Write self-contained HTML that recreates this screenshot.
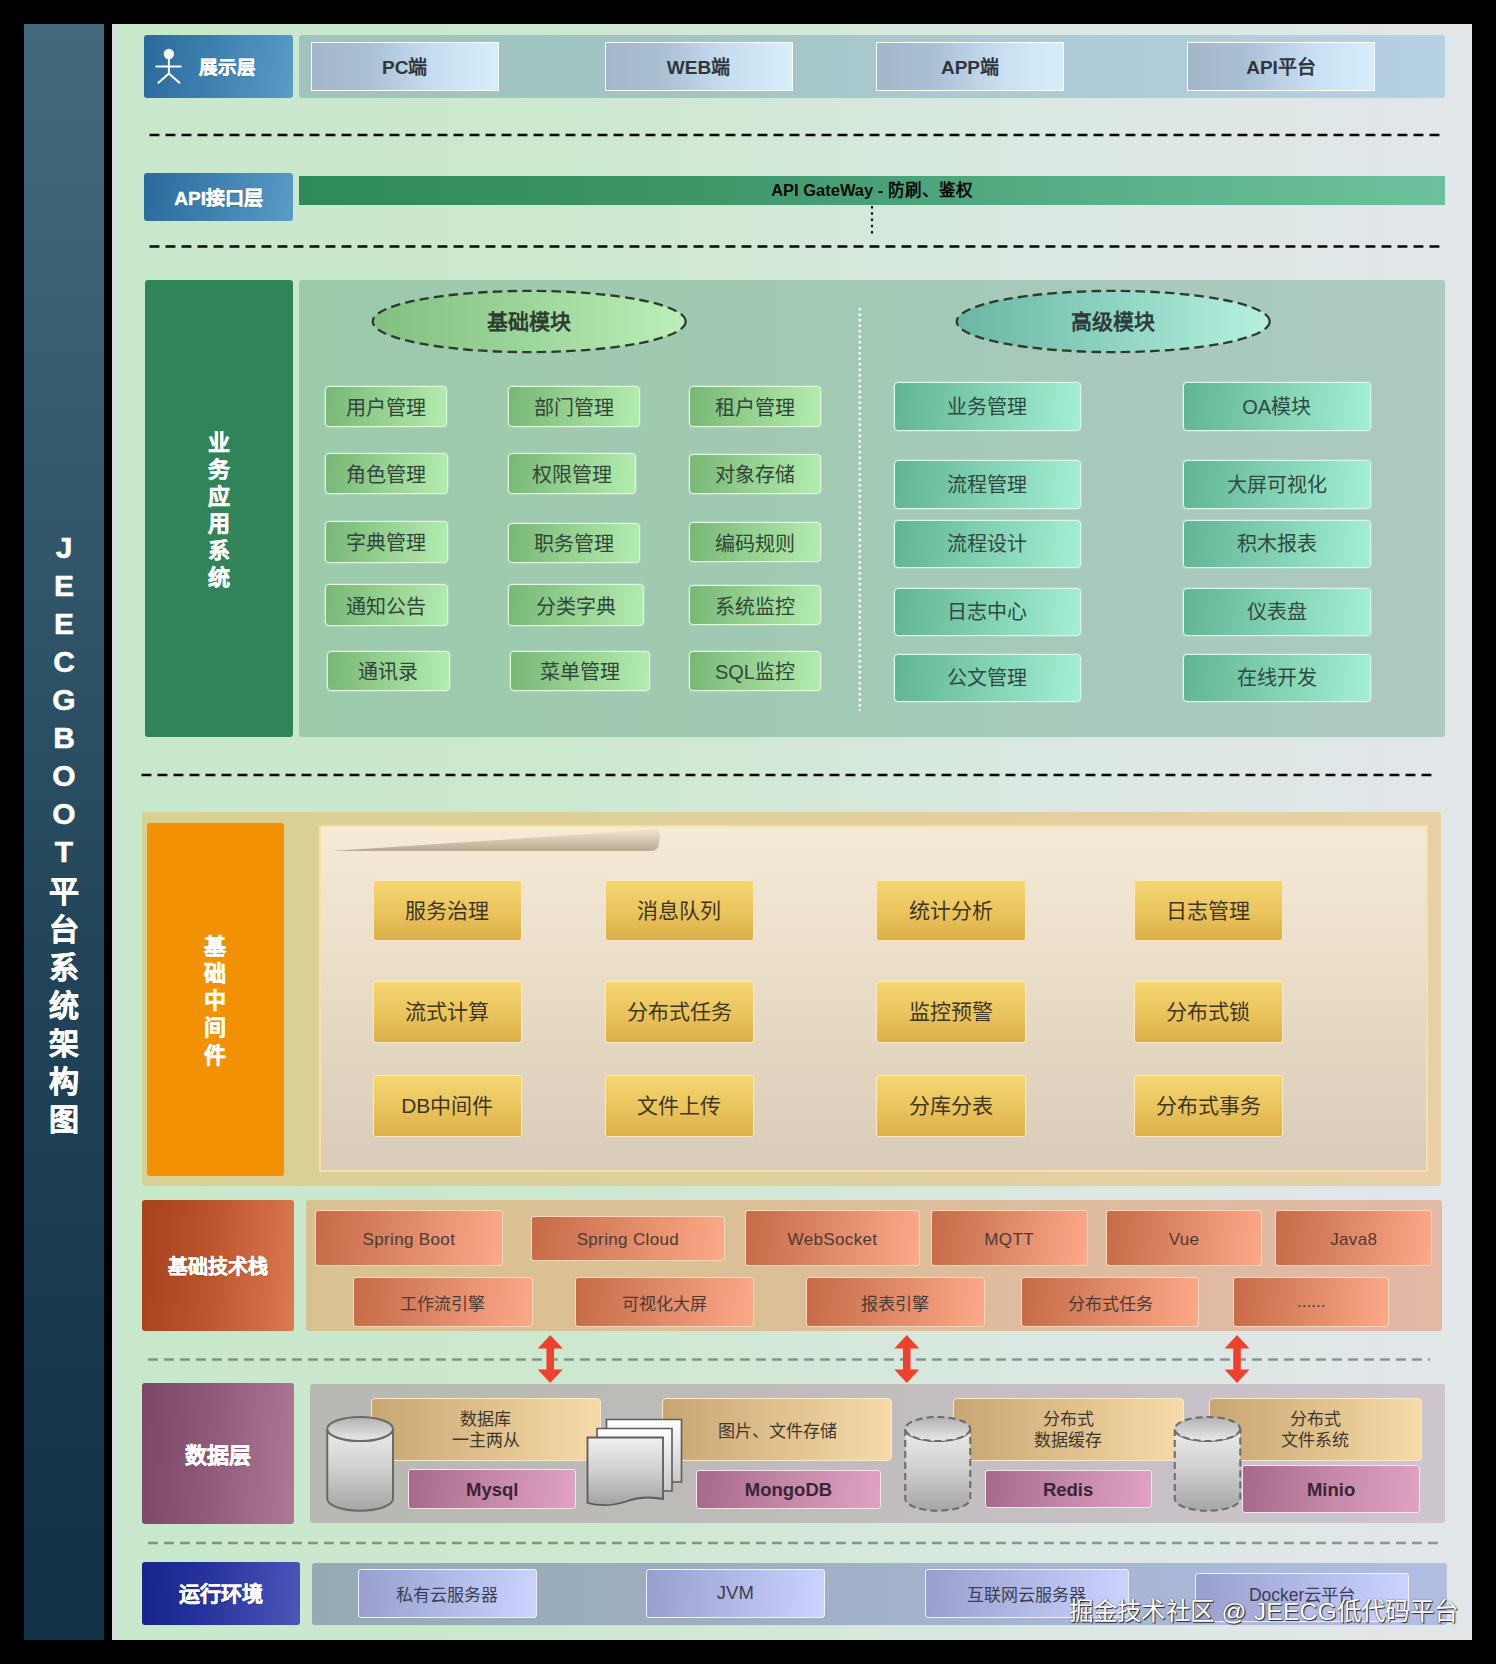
<!DOCTYPE html>
<html lang="zh-CN">
<head>
<meta charset="utf-8">
<title>JEECGBOOT平台系统架构图</title>
<style>
*{box-sizing:border-box;margin:0;padding:0}
html,body{width:1496px;height:1664px;background:#000;overflow:hidden}
body{position:relative;font-family:"Liberation Sans",sans-serif;color:#333}
.b{position:absolute;display:flex;align-items:center;justify-content:center;text-align:center;white-space:nowrap}
.abs{position:absolute}
#side{left:24px;top:24px;width:80px;height:1616px;background:linear-gradient(180deg,#44697b 0%,#33586c 30%,#204357 60%,#113145 100%)}
#side .t{position:absolute;left:0;width:80px;top:505px;color:#fff;font-weight:bold;font-size:30px;line-height:38.05px;text-align:center;-webkit-text-stroke:.5px #fff}
#main{left:112px;top:24px;width:1360px;height:1616px;background:linear-gradient(90deg,#dcdcdc 0,#dbdcda 3px,#c9e7cd 6px,#c8e8cc 20px,#cde8d0 35%,#dbe8e2 70%,#e2e6ea 100%)}
.lab{color:#fff;font-weight:bold;border-radius:3px;-webkit-text-stroke:.45px #fff;text-shadow:0 1px 1px rgba(0,0,0,.18)}
.blue{background:linear-gradient(100deg,#2a6a9c 0%,#3d80ae 45%,#5a9cc8 100%)}
.pbox{padding-bottom:2px;border:1px solid #fff;background:linear-gradient(90deg,#a3b7ca 0%,#a9c0d4 30%,#c6def0 65%,#d6eefc 100%);font-weight:bold;font-size:19px;color:#2f363c}
.gm{border:1px solid #e0fadc;border-radius:4px;background:linear-gradient(95deg,#78b776 0%,#94d090 45%,#b3ecaf 100%);font-size:20px;color:#31473a;box-shadow:0 0 1.5px rgba(240,255,240,.9)}
.am{padding-bottom:2px;border:1px solid #d8faec;border-radius:4px;background:linear-gradient(95deg,#60b593 0%,#7fcfb0 45%,#a3efd3 100%);font-size:20px;color:#2f4a40;box-shadow:0 0 1.5px rgba(240,255,250,.9)}
.mw{padding-bottom:4px;border:1px solid #fee8c2;box-shadow:0 0 1.5px rgba(255,225,175,.9);border-radius:3px;background:linear-gradient(180deg,#f4d671 0%,#ebc55e 50%,#dcaf49 100%);font-size:21px;color:#3f3722}
.tk{padding-top:4px;letter-spacing:.35px;border:1px solid #fdd8b6;border-radius:3px;background:linear-gradient(95deg,#c76a48 0%,#e08a68 50%,#fda888 100%);font-size:17px;color:#4b3b36}
.tan{border:1px solid #f8e8cc;border-radius:4px;background:linear-gradient(90deg,#c7a674 0%,#e0c08c 50%,#f6dba8 100%);font-size:17px;line-height:21.5px;color:#3d382f;padding-top:2px;white-space:normal}
.pk{padding-top:2px;border:1px solid #f8e2ee;border-radius:3px;background:linear-gradient(95deg,#a66989 0%,#c488a8 50%,#e1a2c2 100%);font-size:18.5px;font-weight:bold;color:#3a2533}
.rt{border:1px solid #eef1ff;border-radius:3px;background:linear-gradient(95deg,#989fce 0%,#b3b9e6 50%,#cdd3ff 100%);font-size:17px;color:#3a3f55}
.vt{position:absolute;color:#fff;font-weight:bold;-webkit-text-stroke:.45px #fff;font-size:22px;text-align:center;width:40px}
</style>
</head>
<body>
<div id="side" class="abs"><div class="t">J<br>E<br>E<br>C<br>G<br>B<br>O<br>O<br>T<br><span style="position:relative;top:1.6px">平<br>台<br>系<br>统<br>架<br>构<br>图</span></div></div>
<div id="main" class="abs"></div>

<svg class="abs" style="left:0;top:0" width="1496" height="1664" viewBox="0 0 1496 1664">
<g stroke="#050805" stroke-width="2.5" stroke-dasharray="9.9 6.1" fill="none">
<path d="M149.5 135H1440"/><path d="M149.5 246.5H1440"/><path d="M141.5 775H1432"/>
</g>
<g stroke="#4e6258" stroke-opacity=".62" stroke-width="2.4" stroke-dasharray="9.8 6.2" fill="none">
<path d="M148 1359.5H1430"/><path d="M148 1543H1438"/>
</g>
<path d="M872 206V237" stroke="#111" stroke-width="2.1" stroke-dasharray="2.4 3.85" fill="none"/>
</svg>
<div class="b lab blue" style="left:144.4px;top:35.4px;width:148.6px;height:62.2px;"><span style="position:absolute;left:54.5px;top:21px;font-size:18.5px;line-height:24px">展示层</span></div>
<svg class="abs" style="left:150px;top:44px" width="40" height="46" viewBox="150 44 40 46"><circle cx="168.9" cy="54" r="5.2" fill="#f4f6fa"/><path d="M168.9 58V74M156.4 66.6H180.8M168.9 73.4L158.4 82.8M168.9 73.4L179.4 82.8" stroke="#fff" stroke-width="2" fill="none" stroke-linecap="round"/></svg>
<div class="b " style="left:299px;top:35.4px;width:1146px;height:62.2px;border-radius:3px;background:linear-gradient(90deg,#9ec4bc 0%,#a2c5c4 35%,#aeccd8 70%,#b6d0e4 100%)"></div>
<div class="b pbox" style="left:311px;top:42.3px;width:187.5px;height:48.4px;">PC端</div>
<div class="b pbox" style="left:604.5px;top:42.3px;width:188px;height:48.4px;">WEB端</div>
<div class="b pbox" style="left:876px;top:42.3px;width:188px;height:48.4px;">APP端</div>
<div class="b pbox" style="left:1187px;top:42.3px;width:188px;height:48.4px;">API平台</div>
<div class="b lab blue" style="left:144.4px;top:173.4px;width:148.6px;height:47.6px;font-size:19px;padding-bottom:1px">API接口层</div>
<div class="b " style="left:299px;top:176px;width:1146px;height:29px;background:linear-gradient(90deg,#2d8a5b 0%,#3d9668 35%,#58b089 70%,#6ec19e 100%);font-weight:bold;font-size:16.5px;color:#0a0a0a;padding-bottom:3px">API GateWay - 防刷、鉴权</div>
<div class="b " style="left:144.5px;top:279.5px;width:148.5px;height:457.5px;border-radius:3px;background:#31845a"></div>
<div class="vt" style="left:199px;top:430px;line-height:26.9px">业<br>务<br>应<br>用<br>系<br>统</div>
<div class="b " style="left:299px;top:279.5px;width:1146px;height:457.5px;border-radius:3px;background:linear-gradient(90deg,#9ccbac 0%,#a1c9b2 40%,#a9c9bd 75%,#adc9c1 100%)"></div>
<svg class="abs" style="left:360px;top:284px" width="930" height="432" viewBox="360 284 930 432"><defs><linearGradient id="e1" x1="0" x2="1"><stop offset="0" stop-color="#83bf81"/><stop offset=".5" stop-color="#9dd69a"/><stop offset="1" stop-color="#bbf0b8"/></linearGradient><linearGradient id="e2" x1="0" x2="1"><stop offset="0" stop-color="#6ab6a4"/><stop offset=".5" stop-color="#8fd4c2"/><stop offset="1" stop-color="#b5f1e1"/></linearGradient></defs><ellipse cx="529.2" cy="321.5" rx="156.5" ry="30.6" fill="url(#e1)" stroke="#2c3a30" stroke-width="2.3" stroke-dasharray="9.5 5.2"/><ellipse cx="1113.2" cy="321.5" rx="156.5" ry="30.6" fill="url(#e2)" stroke="#2c3a30" stroke-width="2.3" stroke-dasharray="9.5 5.2"/><path d="M859.7 308V711" stroke="#fff" stroke-width="2.4" stroke-dasharray="2.6 2.9" fill="none" opacity=".95"/></svg>
<div class="b " style="left:429px;top:304px;width:200px;height:35px;font-weight:bold;font-size:21px;color:#2e3d30;padding-bottom:3px">基础模块</div>
<div class="b " style="left:1013px;top:304px;width:200px;height:35px;font-weight:bold;font-size:21px;color:#2e3d3a;padding-bottom:3px">高级模块</div>
<div class="b gm" style="left:325.4px;top:386.4px;width:121.7px;height:40.2px;">用户管理</div>
<div class="b gm" style="left:325.4px;top:453.4px;width:122.2px;height:40.7px;">角色管理</div>
<div class="b gm" style="left:325.4px;top:521.4px;width:122.2px;height:41.2px;">字典管理</div>
<div class="b gm" style="left:325.4px;top:584.4px;width:122.2px;height:41.7px;">通知公告</div>
<div class="b gm" style="left:327.4px;top:650.9px;width:122.2px;height:40.2px;">通讯录</div>
<div class="b gm" style="left:507.9px;top:386.4px;width:131.7px;height:40.2px;">部门管理</div>
<div class="b gm" style="left:507.9px;top:453.4px;width:127.7px;height:40.7px;">权限管理</div>
<div class="b gm" style="left:507.9px;top:522.9px;width:131.7px;height:39.7px;">职务管理</div>
<div class="b gm" style="left:507.9px;top:584.4px;width:135.7px;height:41.7px;">分类字典</div>
<div class="b gm" style="left:509.9px;top:650.9px;width:139.7px;height:40.2px;">菜单管理</div>
<div class="b gm" style="left:688.9px;top:386.4px;width:132.2px;height:40.2px;">租户管理</div>
<div class="b gm" style="left:688.9px;top:453.9px;width:132.2px;height:40.2px;">对象存储</div>
<div class="b gm" style="left:688.9px;top:522.4px;width:132.2px;height:39.7px;">编码规则</div>
<div class="b gm" style="left:688.9px;top:585.4px;width:132.2px;height:39.7px;">系统监控</div>
<div class="b gm" style="left:688.9px;top:650.9px;width:132.2px;height:40.2px;">SQL监控</div>
<div class="b am" style="left:893.9px;top:381.9px;width:187.2px;height:48.7px;">业务管理</div>
<div class="b am" style="left:1182.9px;top:381.9px;width:187.7px;height:48.7px;">OA模块</div>
<div class="b am" style="left:893.9px;top:459.9px;width:187.2px;height:48.7px;">流程管理</div>
<div class="b am" style="left:1182.9px;top:459.9px;width:187.7px;height:48.7px;">大屏可视化</div>
<div class="b am" style="left:893.9px;top:519.9px;width:187.2px;height:48.2px;">流程设计</div>
<div class="b am" style="left:1182.9px;top:519.9px;width:187.7px;height:48.2px;">积木报表</div>
<div class="b am" style="left:893.9px;top:587.9px;width:187.2px;height:48.2px;">日志中心</div>
<div class="b am" style="left:1182.9px;top:587.9px;width:187.7px;height:48.2px;">仪表盘</div>
<div class="b am" style="left:893.9px;top:653.9px;width:187.2px;height:48.2px;">公文管理</div>
<div class="b am" style="left:1182.9px;top:653.9px;width:187.7px;height:48.2px;">在线开发</div>
<div class="b " style="left:142px;top:812px;width:1299px;height:374px;border-radius:3px;background:linear-gradient(90deg,#d9d093 0%,#ddd09a 40%,#e4cfa2 75%,#e9cfa6 100%)"></div>
<div class="b " style="left:147px;top:823px;width:137px;height:353px;border-radius:3px;background:#f39104"></div>
<div class="vt" style="left:195px;top:932.6px;line-height:27.25px">基<br>础<br>中<br>间<br>件</div>
<div class="b " style="left:318.8px;top:825.4px;width:1109.6px;height:347px;border:2px solid #f9dfae;border-radius:2px;background:linear-gradient(180deg,#f4ead6 0%,#ece0cb 35%,#e2d5c0 70%,#d9cbb8 100%)"></div>
<svg class="abs" style="left:322px;top:827px" width="345" height="28" viewBox="322 827 345 28"><defs><linearGradient id="wd" x1="0" x2="0" y1="0" y2="1"><stop offset="0" stop-color="#efe4cf"/><stop offset=".45" stop-color="#d6cab4"/><stop offset="1" stop-color="#b7a992"/></linearGradient></defs><path d="M331 851 L654 829.6 Q660.5 829.2 660 835.5 L658.8 845 Q657.8 850.6 651 851 Z" fill="url(#wd)"/></svg>
<div class="b mw" style="left:372.8px;top:880.05px;width:148.9px;height:61.4px;">服务治理</div>
<div class="b mw" style="left:605.3px;top:880.05px;width:148.4px;height:61.4px;">消息队列</div>
<div class="b mw" style="left:876.3px;top:880.05px;width:149.4px;height:61.4px;">统计分析</div>
<div class="b mw" style="left:1133.8px;top:880.05px;width:148.9px;height:61.4px;">日志管理</div>
<div class="b mw" style="left:372.8px;top:981.3px;width:148.9px;height:61.4px;">流式计算</div>
<div class="b mw" style="left:605.3px;top:981.3px;width:148.4px;height:61.4px;">分布式任务</div>
<div class="b mw" style="left:876.3px;top:981.3px;width:149.4px;height:61.4px;">监控预警</div>
<div class="b mw" style="left:1133.8px;top:981.3px;width:148.9px;height:61.4px;">分布式锁</div>
<div class="b mw" style="left:372.8px;top:1075.05px;width:148.9px;height:61.9px;">DB中间件</div>
<div class="b mw" style="left:605.3px;top:1075.05px;width:148.4px;height:61.9px;">文件上传</div>
<div class="b mw" style="left:876.3px;top:1075.05px;width:149.4px;height:61.9px;">分库分表</div>
<div class="b mw" style="left:1133.8px;top:1075.05px;width:148.9px;height:61.9px;">分布式事务</div>
<div class="b lab" style="left:141.5px;top:1200px;width:152.5px;height:131.25px;font-size:20px;background:linear-gradient(95deg,#a8421b 0%,#b9522a 40%,#d06c44 80%,#dd7a52 100%)">基础技术栈</div>
<div class="b " style="left:306px;top:1200px;width:1135.5px;height:130.5px;border-radius:3px;background:linear-gradient(90deg,#d9c291 0%,#dbbf97 40%,#dfbaa0 75%,#e2b8a6 100%)"></div>
<div class="b tk" style="left:315.1px;top:1210.35px;width:187.55px;height:55.55px;">Spring Boot</div>
<div class="b tk" style="left:530.6px;top:1215.8px;width:194.55px;height:44.8px;">Spring Cloud</div>
<div class="b tk" style="left:744.6px;top:1210.35px;width:175.8px;height:55.55px;">WebSocket</div>
<div class="b tk" style="left:930.6px;top:1210.35px;width:157.05px;height:55.55px;">MQTT</div>
<div class="b tk" style="left:1105.6px;top:1210.35px;width:156.8px;height:55.55px;">Vue</div>
<div class="b tk" style="left:1275.1px;top:1210.35px;width:157.3px;height:55.55px;">Java8</div>
<div class="b tk" style="left:353.35px;top:1277.1px;width:179.3px;height:50.05px;font-size:17px;padding-top:0;letter-spacing:0">工作流引擎</div>
<div class="b tk" style="left:575.1px;top:1277.1px;width:178.8px;height:50.05px;font-size:17px;padding-top:0;letter-spacing:0">可视化大屏</div>
<div class="b tk" style="left:805.85px;top:1277.1px;width:178.8px;height:50.05px;font-size:17px;padding-top:0;letter-spacing:0">报表引擎</div>
<div class="b tk" style="left:1020.85px;top:1277.1px;width:178.55px;height:50.05px;font-size:17px;padding-top:0;letter-spacing:0">分布式任务</div>
<div class="b tk" style="left:1233.35px;top:1277.1px;width:155.8px;height:50.05px;font-size:17px;padding-top:0;letter-spacing:0">......</div>
<svg class="abs" style="left:530px;top:1332px" width="730" height="54" viewBox="530 1332 730 54"><g fill="#f0412f">
<path d="M550.25 1335L562.75 1348.5H554.05V1369.5H562.75L550.25 1383L537.75 1369.5H546.45V1348.5H537.75Z"/>
<path d="M906.75 1335L919.25 1348.5H910.55V1369.5H919.25L906.75 1383L894.25 1369.5H902.95V1348.5H894.25Z"/>
<path d="M1237 1335L1249.5 1348.5H1240.8V1369.5H1249.5L1237 1383L1224.5 1369.5H1233.2V1348.5H1224.5Z"/>
</g></svg>
<div class="b lab" style="left:141.5px;top:1383px;width:152.5px;height:140.75px;font-size:22px;background:linear-gradient(95deg,#7c4767 0%,#8d5878 40%,#a36d8c 80%,#ae7997 100%)">数据层</div>
<div class="b " style="left:310px;top:1383.75px;width:1135px;height:138.75px;border-radius:3px;background:linear-gradient(90deg,#b7b9b2 0%,#bdbbb8 35%,#c6c0c5 70%,#cec5cf 100%)"></div>
<div class="b tan" style="left:370.7px;top:1397.7px;width:230.1px;height:63.1px;">数据库<br>一主两从</div>
<div class="b tan" style="left:661.95px;top:1397.7px;width:229.85px;height:63.1px;padding-left:2px;padding-top:5px">图片、文件存储</div>
<div class="b tan" style="left:953.2px;top:1397.7px;width:230.35px;height:63.1px;">分布式<br>数据缓存</div>
<div class="b tan" style="left:1209.2px;top:1397.7px;width:212.35px;height:63.1px;">分布式<br>文件系统</div>
<div class="b pk" style="left:408.2px;top:1468.95px;width:168.1px;height:39.85px;">Mysql</div>
<div class="b pk" style="left:696.2px;top:1470.2px;width:184.6px;height:38.6px;">MongoDB</div>
<div class="b pk" style="left:984.7px;top:1469.7px;width:166.85px;height:38.6px;">Redis</div>
<div class="b pk" style="left:1242.45px;top:1464.7px;width:177.35px;height:48.6px;">Minio</div>
<svg class="abs" style="left:320px;top:1410px" width="930" height="106" viewBox="320 1410 930 106"><defs><linearGradient id="cy" x1="0" x2="0" y1="0" y2="1"><stop offset="0" stop-color="#ececec"/><stop offset=".45" stop-color="#d2d2d2"/><stop offset="1" stop-color="#a6a6a6"/></linearGradient><linearGradient id="ct" x1="0" x2="0" y1="0" y2="1"><stop offset="0" stop-color="#b2b2b2"/><stop offset="1" stop-color="#e9e9e9"/></linearGradient><linearGradient id="dc" x1="0" x2="0" y1="0" y2="1"><stop offset="0" stop-color="#f0f0f0"/><stop offset=".5" stop-color="#cfcfcf"/><stop offset="1" stop-color="#a2a2a2"/></linearGradient><linearGradient id="dw" x1="0" x2="0" y1="0" y2="1"><stop offset="0" stop-color="#ffffff"/><stop offset="1" stop-color="#c8c8c8"/></linearGradient></defs>
<path d="M327.25 1429V1498.75A32.875 12 0 0 0 393.0 1498.75V1429A32.875 12 0 0 1 327.25 1429Z" fill="url(#cy)" stroke="#6a6a6a" stroke-width="2"/>
<ellipse cx="360.125" cy="1429" rx="32.875" ry="12" fill="url(#ct)" stroke="#6a6a6a" stroke-width="2"/>
<path d="M905.25 1429V1498.75A32.5 12 0 0 0 970.25 1498.75V1429A32.5 12 0 0 1 905.25 1429Z" fill="url(#cy)" stroke="#6a6a6a" stroke-width="2" stroke-dasharray="7 4"/>
<ellipse cx="937.75" cy="1429" rx="32.5" ry="12" fill="url(#ct)" stroke="#6a6a6a" stroke-width="2" stroke-dasharray="7 4"/>
<path d="M1174.75 1429V1498.75A32.75 12 0 0 0 1240.25 1498.75V1429A32.75 12 0 0 1 1174.75 1429Z" fill="url(#cy)" stroke="#6a6a6a" stroke-width="2" stroke-dasharray="7 4"/>
<ellipse cx="1207.5" cy="1429" rx="32.75" ry="12" fill="url(#ct)" stroke="#6a6a6a" stroke-width="2" stroke-dasharray="7 4"/>
<path d="M606.5 1419.5H681.5V1482H606.5Z" fill="url(#dw)" stroke="#5c5c5c" stroke-width="1.6"/>
<path d="M597 1428.5H672V1491H597Z" fill="url(#dw)" stroke="#5c5c5c" stroke-width="1.6"/>
<path d="M587.5 1437.5H663V1499Q644 1495 626 1501.5Q606 1508 587.5 1503Z" fill="url(#dc)" stroke="#5c5c5c" stroke-width="1.8"/>
</svg>
<div class="b lab" style="left:141.5px;top:1562.25px;width:158.5px;height:62.5px;font-size:21px;padding-bottom:4px;background:linear-gradient(95deg,#18238c 0%,#27339c 40%,#3f4bb0 80%,#4a56b8 100%)">运行环境</div>
<div class="b " style="left:312px;top:1562.5px;width:1134.5px;height:62px;border-radius:3px;background:linear-gradient(90deg,#95abb4 0%,#9daec2 35%,#a9b5d6 70%,#b2bde2 100%)"></div>
<div class="b rt" style="left:357.7px;top:1568.95px;width:179.1px;height:48.85px;">私有云服务器</div>
<div class="b rt" style="left:646.2px;top:1568.95px;width:178.35px;height:48.85px;font-size:18.5px">JVM</div>
<div class="b rt" style="left:925.2px;top:1568.95px;width:203.35px;height:48.85px;">互联网云服务器</div>
<div class="b rt" style="left:1195.45px;top:1573.45px;width:213.35px;height:48.85px;font-size:17.5px;padding-bottom:8px">Docker云平台</div>
<div class="abs" style="left:1068.5px;top:1595.5px;width:392px;height:32px;font-size:24.5px;letter-spacing:.3px;line-height:32px;color:#fff;white-space:nowrap;text-shadow:1px 1px 1px rgba(35,35,35,.95),0 0 1.5px rgba(35,35,35,.75)">掘金技术社区 @ JEECG低代码平台</div>
</body>
</html>
